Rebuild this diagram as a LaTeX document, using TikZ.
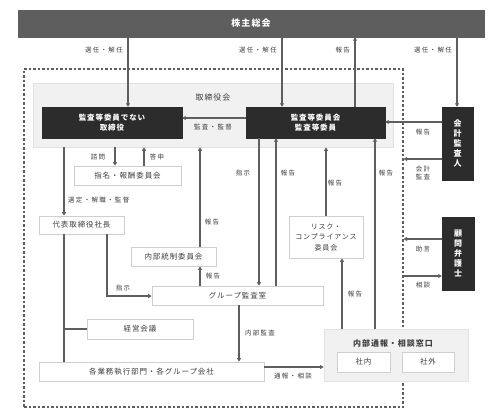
\documentclass[tikz,border=0pt]{standalone}
\usepackage{fontspec}
\setmainfont{Noto Sans CJK JP}
\newfontfamily\jp[LetterSpace=12]{Noto Sans CJK JP}
\newfontfamily\jplab[LetterSpace=20]{Noto Sans CJK JP}
\usetikzlibrary{arrows.meta}
\definecolor{barc}{HTML}{5E5E5E}
\definecolor{blk}{HTML}{2C2C2C}
\definecolor{ln}{HTML}{5E5E5E}
\definecolor{txt}{HTML}{3E3E3E}
\definecolor{bd}{HTML}{CFCFCF}
\definecolor{reg}{HTML}{F1F1F1}
\definecolor{regbd}{HTML}{E2E2E2}
\tikzset{
  wbox/.style={draw=bd, line width=0.8pt, fill=white, inner sep=0pt, font=\jp\fontsize{7.5}{9}\selectfont, text=txt},
  bbox/.style={fill=blk, draw=blk, inner sep=0pt, font=\jp\bfseries\fontsize{7.5}{10}\selectfont, text=white, align=center},
  lab/.style={font=\jplab\fontsize{6.5}{8.5}\selectfont, text=txt, inner sep=0pt, align=center},
  arr/.style={draw=ln, line width=1.3pt, -{Triangle[length=3.5pt,width=4pt]}},
  ln/.style={draw=ln, line width=1.3pt},
}
\begin{document}
\begin{tikzpicture}[x=1pt,y=-1pt]
\useasboundingbox (0,0) rectangle (502,417);
% group frame
\node[draw=ln, line width=1.1pt, dash pattern=on 2.5pt off 2pt, minimum width=379pt, minimum height=338pt, inner sep=0pt] (grp) at (213.5,238) {};
% top bar
\node[fill=barc, draw=barc, minimum width=466pt, minimum height=27pt, inner sep=0pt, text=white, font=\jp\bfseries\fontsize{9}{10}\selectfont] (top) at (251,23.5) {株主総会};
% board region
\node[fill=reg, draw=regbd, line width=0.8pt, minimum width=360pt, minimum height=64pt, inner sep=0pt] (board) at (213,115) {};
\node[font=\jp\fontsize{8}{9}\selectfont, text=txt, inner sep=0pt] (boardt) at (213,97) {取締役会};
\node[bbox, minimum width=140pt, minimum height=31pt] (b1) at (112,122.5) {監査等委員でない\\取締役};
\node[bbox, minimum width=139pt, minimum height=31pt] (b2) at (315.5,122.5) {監査等委員会\\監査等委員};
\node[bbox, minimum width=31pt, minimum height=73pt, font=\jp\bfseries\fontsize{8}{10}\selectfont] (aud) at (457.5,143.5) {会\\計\\監\\査\\人};
\node[bbox, minimum width=32pt, minimum height=73pt, font=\jp\bfseries\fontsize{8}{9.8}\selectfont] (law) at (458,253.5) {顧\\問\\弁\\護\\士};
% white boxes
\node[wbox, minimum width=107pt, minimum height=19pt] (nom) at (127.5,175.5) {指名・報酬委員会};
\node[wbox, minimum width=85pt, minimum height=18pt] (pres) at (81.5,225) {代表取締役社長};
\node[wbox, minimum width=85pt, minimum height=19pt] (icc) at (173.5,256.5) {内部統制委員会};
\node[wbox, minimum width=74pt, minimum height=42pt, align=center, font=\jp\fontsize{7}{10.5}\selectfont] (risk) at (326,237) {リスク・\\コンプライアンス\\委員会};
\node[wbox, minimum width=171pt, minimum height=19pt] (gaud) at (237.5,295.5) {グループ監査室};
\node[wbox, minimum width=106pt, minimum height=20pt] (mgmt) at (140,329) {経営会議};
\node[wbox, minimum width=225pt, minimum height=19pt] (ops) at (151.5,371.5) {各業務執行部門・各グループ会社};
\node[fill=reg, draw=regbd, line width=0.8pt, minimum width=144pt, minimum height=52pt, inner sep=0pt] (wh) at (396,355) {};
\node[font=\jp\bfseries\fontsize{8}{9}\selectfont, text=blk!90, inner sep=0pt] (wht) at (393,343) {内部通報・相談窓口};
\node[wbox, minimum width=53pt, minimum height=20pt] (win) at (363.5,362) {社内};
\node[wbox, minimum width=52pt, minimum height=20pt] (wout) at (428,362) {社外};
% x coordinates
\coordinate (x128) at (128,0);
\coordinate (x282) at (282,0);
\coordinate (x355) at (355,0);
\coordinate (x457) at (457,0);
\coordinate (x64) at (64,0);
\coordinate (x115) at (115,0);
\coordinate (x144) at (144,0);
\coordinate (x200) at (200,0);
\coordinate (x259) at (259,0);
\coordinate (x276) at (276,0);
\coordinate (x326) at (326,0);
\coordinate (x342) at (342,0);
\coordinate (x375) at (375,0);
\coordinate (x107) at (107,0);
\coordinate (x239) at (239,0);
\coordinate (y118) at (0,118);
\coordinate (y122) at (0,122);
\coordinate (y159) at (0,159);
\coordinate (y239) at (0,239);
\coordinate (y276) at (0,276);
\coordinate (y296) at (0,296);
\coordinate (y329) at (0,329);
\coordinate (y367) at (0,367);
% shareholders connectors
\draw[arr] (top.south -| x128) -- (b1.north -| x128);
\draw[arr] (top.south -| x282) -- (b2.north -| x282);
\draw[arr] (b2.north -| x355) -- (top.south -| x355);
\draw[arr] (top.south -| x457) -- (aud.north -| x457);
\node[lab, anchor=east] (l1) at (123,50) {選任・解任};
\node[lab, anchor=east] (l2) at (277,50) {選任・解任};
\node[lab, anchor=east] (l3) at (350,50) {報告};
\node[lab, anchor=east] (l4) at (452,50) {選任・解任};
% board internal
\draw[arr] (b2.west |- y118) -- (b1.east |- y118);
\node[lab] (l5) at (213,127) {監査・監督};
% auditor / lawyer
\draw[arr] (aud.west |- y122) -- (b2.east |- y122);
\node[lab] (l6) at (423,132) {報告};
\draw[arr] (aud.west |- y159) -- (grp.east |- y159);
\node[lab] (l7) at (423,173) {会計\\監査};
\draw[arr] (law.west |- y239) -- (grp.east |- y239);
\node[lab] (l8) at (423,249) {助言};
\draw[arr] (grp.east |- y276) -- (law.west |- y276);
\node[lab] (l9) at (423,285) {相談};
% below board
\draw[arr] (board.south -| x64) -- (pres.north -| x64);
\node[lab, anchor=west] (l10) at (68,200) {選定・解職・監督};
\draw[arr] (board.south -| x115) -- (nom.north -| x115);
\node[lab] (l11) at (98,157) {諮問};
\draw[arr] (nom.north -| x144) -- (board.south -| x144);
\node[lab] (l12) at (157,157) {答申};
\draw[arr] (icc.north -| x200) -- (board.south -| x200);
\node[lab] (l13) at (212,222) {報告};
\draw[arr] (b2.south -| x259) -- (gaud.north -| x259);
\node[lab] (l14) at (243,173) {指示};
\draw[arr] (gaud.north -| x276) -- (b2.south -| x276);
\node[lab] (l15) at (288,173) {報告};
\draw[arr] (risk.north -| x326) -- (board.south -| x326);
\node[lab] (l16) at (335,183) {報告};
\draw[arr] (wh.north -| x375) -- (b2.south -| x375);
\node[lab] (l17) at (386,173) {報告};
\draw[arr] (wh.north -| x342) -- (risk.south -| x342);
\node[lab] (l18) at (355,294) {報告};
\draw[arr] (gaud.north -| x200) -- (icc.south -| x200);
\node[lab] (l19) at (213,276) {報告};
\draw[arr] (pres.south -| x107) -- (x107 |- y296) -- (gaud.west |- y296);
\node[lab] (l20) at (123,288) {指示};
\draw[ln] (pres.south -| x64) -- (ops.north -| x64);
\draw[ln] (x64 |- y329) -- (mgmt.west);
\draw[arr] (gaud.south -| x239) -- (ops.north -| x239);
\node[lab] (l21) at (260,333) {内部監査};
\draw[arr] (ops.east |- y367) -- (wh.west |- y367);
\node[lab] (l22) at (293,376) {通報・相談};
\end{tikzpicture}
\end{document}
